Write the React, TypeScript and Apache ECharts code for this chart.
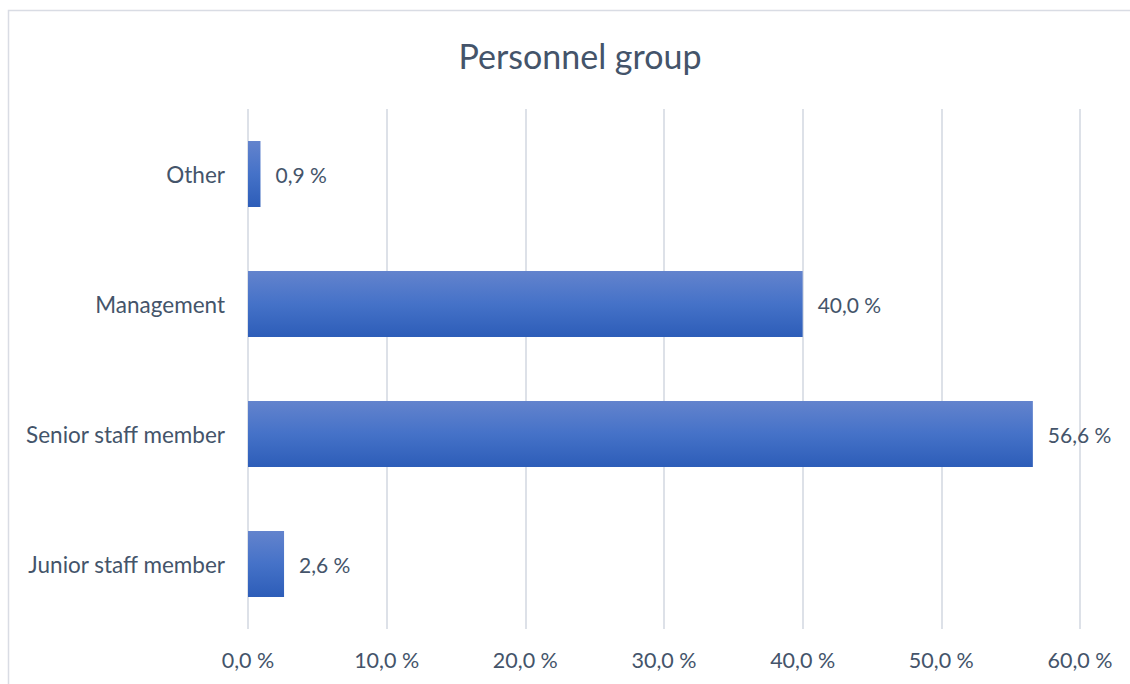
import React, { useEffect, useRef } from "react";
import * as echarts from "echarts";

const categories = ["Junior staff member", "Senior staff member", "Management", "Other"];
const values = [2.6, 56.6, 40.0, 0.9];
const titleText = "Personnel group";

const fmt = (v: number) => v.toFixed(1).replace(".", ",") + " %";

export default function App() {
  const ref = useRef<HTMLDivElement>(null);
  useEffect(() => {
    document.body.style.margin = "0";
    const chart = echarts.init(ref.current!, null, { renderer: "svg" });
    const textColor = "#44546a";
    const font = "Lato, 'Open Sans', sans-serif";
    chart.setOption({
      animation: false,
      backgroundColor: "#ffffff",
      title: {
        text: titleText,
        left: 575,
        textAlign: "center",
        top: 33,
        textStyle: { color: textColor, fontSize: 34, fontWeight: "normal", fontFamily: font },
      },
      graphic: [
        {
          type: "rect",
          shape: { x: 8.5, y: 10.5, width: 1300, height: 900 },
          style: { fill: "none", stroke: "#d9dce4", lineWidth: 1.5 },
          silent: true,
        },
      ],
      grid: { left: 248, right: 50, top: 109, bottom: 55, containLabel: false },
      xAxis: {
        type: "value",
        min: 0,
        max: 60,
        interval: 10,
        axisLine: { show: false },
        axisTick: { show: false },
        splitLine: { show: true, lineStyle: { color: "#dde1e8", width: 2 } },
        axisLabel: {
          color: textColor,
          fontSize: 21.5,
          fontFamily: font,
          margin: 20,
          formatter: (v: number) => fmt(v),
        },
      },
      yAxis: {
        type: "category",
        data: categories,
        axisLine: { show: false },
        axisTick: { show: false },
        axisLabel: { color: textColor, fontSize: 22.5, fontFamily: font, margin: 23 },
      },
      series: [
        {
          type: "bar",
          data: values,
          barWidth: 66,
          itemStyle: {
            color: new echarts.graphic.LinearGradient(0, 0, 0, 1, [
              { offset: 0, color: "#6383cd" },
              { offset: 0.5, color: "#4572c8" },
              { offset: 1, color: "#2d5db8" },
            ]),
          },
          label: {
            show: true,
            position: "right",
            distance: 15,
            color: textColor,
            fontSize: 21,
            fontFamily: font,
            formatter: (p: any) => fmt(p.value),
          },
        },
      ],
    });
    return () => chart.dispose();
  }, []);
  return <div ref={ref} style={{ width: 1130, height: 684 }} />;
}
